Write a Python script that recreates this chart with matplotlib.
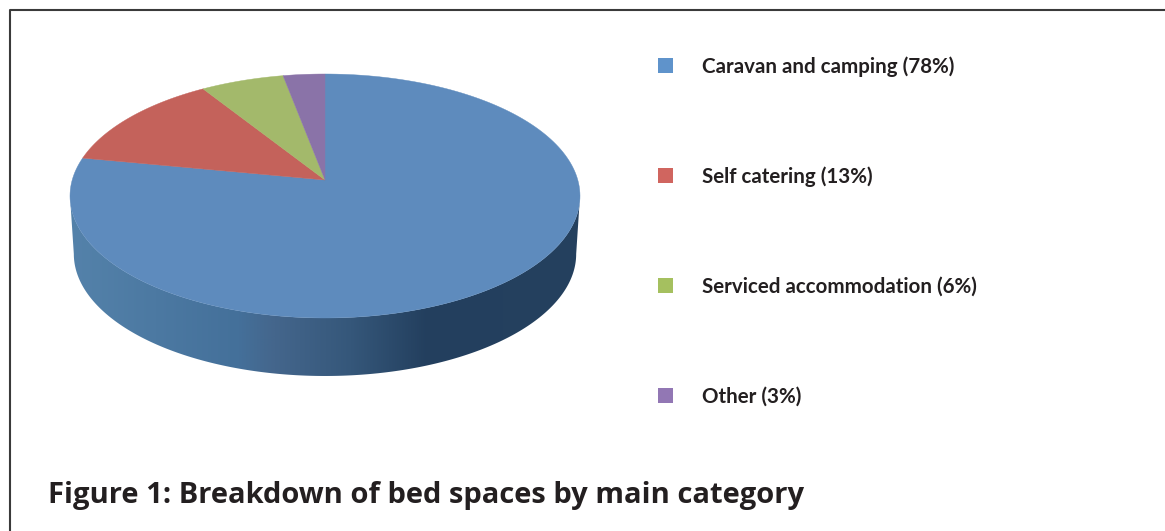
import numpy as np
import matplotlib
matplotlib.use("Agg")
import matplotlib.pyplot as plt
from matplotlib.patches import Polygon, Patch
from matplotlib.colors import LinearSegmentedColormap

labels = ["Caravan and camping (78%)", "Self catering (13%)",
          "Serviced accommodation (6%)", "Other (3%)"]
values = [78, 13, 6, 3]
top_colors = ["#5e8bbd", "#c4625b", "#a3b96b", "#8a73a8"]
legend_colors = ["#5f93cb", "#d0655f", "#a5c05f", "#9277b4"]
side_stops = [(0.0, "#5482aa"), (0.33, "#44709a"), (0.40, "#44668c"),
              (0.55, "#35577a"), (0.70, "#233f5e"), (1.0, "#25415f")]
title = "Figure 1: Breakdown of bed spaces by main category"
text_color = "#231f20"

# pie geometry in picture pixels, tilted with a bit of perspective
cx = 325
ax_k = 252.8
yA, yB, yC = -96.3, 180.0, 0.1311
depth = 58


def rim(theta):
    den = yC * np.cos(theta) + 1
    return cx + ax_k * np.sin(theta) / den, (yA * np.cos(theta) + yB) / den


fig = plt.figure(figsize=(11.65, 5.31), dpi=100)
ax = fig.add_axes([0, 0, 1, 1])
ax.set_xlim(0, 1165)
ax.set_ylim(531, 0)
ax.axis("off")

# frame, only top and left are visible in the crop
ax.plot([9.5, 9.5, 1165], [531, 9.5, 9.5], color="#3a3a3a", lw=1.5)

# side wall with horizontal gradient, starts at the widest point of the rim
widest = np.arccos(-yC)
t = np.linspace(widest, 2 * np.pi - widest, 300)
x1, y1 = rim(t)
x2 = cx + (x1 - cx) * 0.985
y2 = y1 + depth
side = Polygon(np.r_[np.c_[x1, y1], np.c_[x2, y2][::-1]], closed=True,
               fc="none", ec="none")
ax.add_patch(side)
cmap = LinearSegmentedColormap.from_list("side", side_stops)
im = ax.imshow(np.linspace(0, 1, 512).reshape(1, -1), cmap=cmap, aspect="auto",
               extent=[70, 581, 400, 150], zorder=1)
im.set_clip_path(side)
ax.set_xlim(0, 1165)
ax.set_ylim(531, 0)

# top face, one wedge per value, clockwise from 12 o'clock
total = sum(values)
edges = np.cumsum([0] + values) / total * 2 * np.pi
apex = (cx, yB)
for i in range(len(values)):
    th = np.linspace(edges[i], edges[i + 1], 200)
    xs, ys = rim(th)
    ax.add_patch(Polygon(np.r_[[apex], np.c_[xs, ys]], closed=True,
                         fc=top_colors[i], ec=top_colors[i], lw=0.3, zorder=2))

handles = [Patch(fc=c, ec="none") for c in legend_colors]
ax.legend(handles, labels, loc="upper left", bbox_to_anchor=(658 / 1165, 1 - 56 / 531),
          frameon=False, prop={"family": "Lato", "weight": "bold", "size": 14.8},
          labelcolor=text_color, handlelength=0.72, handleheight=0.72,
          handletextpad=1.42, labelspacing=4.37, borderpad=0, borderaxespad=0)

ax.text(48, 495, title, family="Open Sans", weight="bold", fontsize=20.95,
        color=text_color, va="center", ha="left")

fig.savefig("out.png", dpi=100)
